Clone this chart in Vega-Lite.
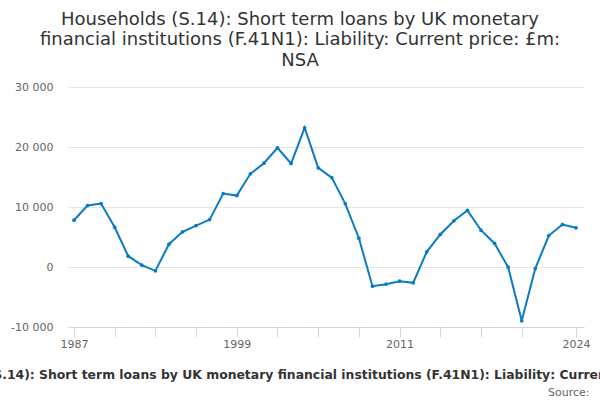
{
  "$schema": "https://vega.github.io/schema/vega-lite/v6.json",
  "autosize": {"type": "none"},
  "width": 516,
  "height": 240,
  "padding": {"left": 68, "top": 87, "right": 16, "bottom": 73},
  "background": "white",
  "config": {"view": {"stroke": null}, "font": "DejaVu Sans"},
  "title": {
    "text": ["Households (S.14): Short term loans by UK monetary", "financial institutions (F.41N1): Liability: Current price: £m:", "NSA"],
    "anchor": "middle",
    "frame": "group",
    "dx": -26,
    "offset": 11,
    "fontSize": 18,
    "lineHeight": 20.7,
    "fontWeight": "normal",
    "color": "#333333",
    "font": "DejaVu Sans"
  },
  "data": {"values": [
    {"year": 1987, "value": 7800},
    {"year": 1988, "value": 10250},
    {"year": 1989, "value": 10580},
    {"year": 1990, "value": 6630},
    {"year": 1991, "value": 1800},
    {"year": 1992, "value": 300},
    {"year": 1993, "value": -640},
    {"year": 1994, "value": 3800},
    {"year": 1995, "value": 5860},
    {"year": 1996, "value": 6900},
    {"year": 1997, "value": 7900},
    {"year": 1998, "value": 12250},
    {"year": 1999, "value": 11900},
    {"year": 2000, "value": 15530},
    {"year": 2001, "value": 17300},
    {"year": 2002, "value": 19860},
    {"year": 2003, "value": 17250},
    {"year": 2004, "value": 23200},
    {"year": 2005, "value": 16530},
    {"year": 2006, "value": 14900},
    {"year": 2007, "value": 10530},
    {"year": 2008, "value": 4800},
    {"year": 2009, "value": -3200},
    {"year": 2010, "value": -2870},
    {"year": 2011, "value": -2370},
    {"year": 2012, "value": -2640},
    {"year": 2013, "value": 2530},
    {"year": 2014, "value": 5420},
    {"year": 2015, "value": 7700},
    {"year": 2016, "value": 9420},
    {"year": 2017, "value": 6130},
    {"year": 2018, "value": 3920},
    {"year": 2019, "value": -30},
    {"year": 2020, "value": -8970},
    {"year": 2021, "value": -250},
    {"year": 2022, "value": 5250},
    {"year": 2023, "value": 7080},
    {"year": 2024, "value": 6530}
  ]},
  "layer": [
    {
      "mark": {"type": "line", "color": "#0a7bc4", "strokeWidth": 2},
      "encoding": {
        "x": {
          "field": "year", "type": "quantitative",
          "scale": {"domain": [1986.56, 2024.59], "nice": false, "zero": false},
          "axis": {
            "orient": "bottom",
            "values": [1987, 1990, 1993, 1996, 1999, 2002, 2005, 2008, 2011, 2014, 2017, 2020, 2024],
            "labelExpr": "indexof([1987,1999,2011,2024], datum.value) >= 0 ? format(datum.value, 'd') : ''",
            "grid": false,
            "domainColor": "#ccd6eb",
            "tickColor": "#ccd6eb",
            "tickSize": 10,
            "labelPadding": 1,
            "labelFontSize": 11,
            "labelColor": "#666666",
            "labelFont": "DejaVu Sans",
            "labelFlush": false,
            "labelOverlap": false,
            "title": "Households (S.14): Short term loans by UK monetary financial institutions (F.41N1): Liability: Current price: £m: NSA",
            "titleFont": "DejaVu Sans",
            "titleFontSize": 12.4,
            "titleFontWeight": "bold",
            "titleColor": "#333333",
            "titleAnchor": null,
            "titleAlign": "center",
            "titleBaseline": "alphabetic",
            "titleX": 243,
            "titleY": 51
          }
        },
        "y": {
          "field": "value", "type": "quantitative",
          "scale": {"domain": [-10000, 30000], "nice": false},
          "axis": {
            "values": [-10000, 0, 10000, 20000, 30000],
            "labelExpr": "replace(replace(format(datum.value, ','), ',', ' '), '−', '-')",
            "domain": false,
            "ticks": false,
            "gridColor": "#e6e6e6",
            "labelPadding": 15,
            "labelFontSize": 11,
            "labelColor": "#666666",
            "labelFont": "DejaVu Sans",
            "title": null
          }
        }
      }
    },
    {
      "mark": {"type": "point", "filled": true, "size": 14, "color": "#0a7bc4", "opacity": 1},
      "encoding": {
        "x": {
          "field": "year", "type": "quantitative",
          "axis": {
            "orient": "bottom",
            "labels": false, "ticks": false, "domain": false, "grid": false,
            "title": "Source:",
            "titleFont": "DejaVu Sans",
            "titleFontSize": 11,
            "titleFontWeight": "normal",
            "titleColor": "#666666",
            "titleAnchor": "end",
            "titleAlign": "right",
            "titleBaseline": "alphabetic",
            "titleX": 521,
            "titleY": 68
          }
        },
        "y": {"field": "value", "type": "quantitative"}
      }
    }
  ],
  "resolve": {"axis": {"x": "independent"}}
}
